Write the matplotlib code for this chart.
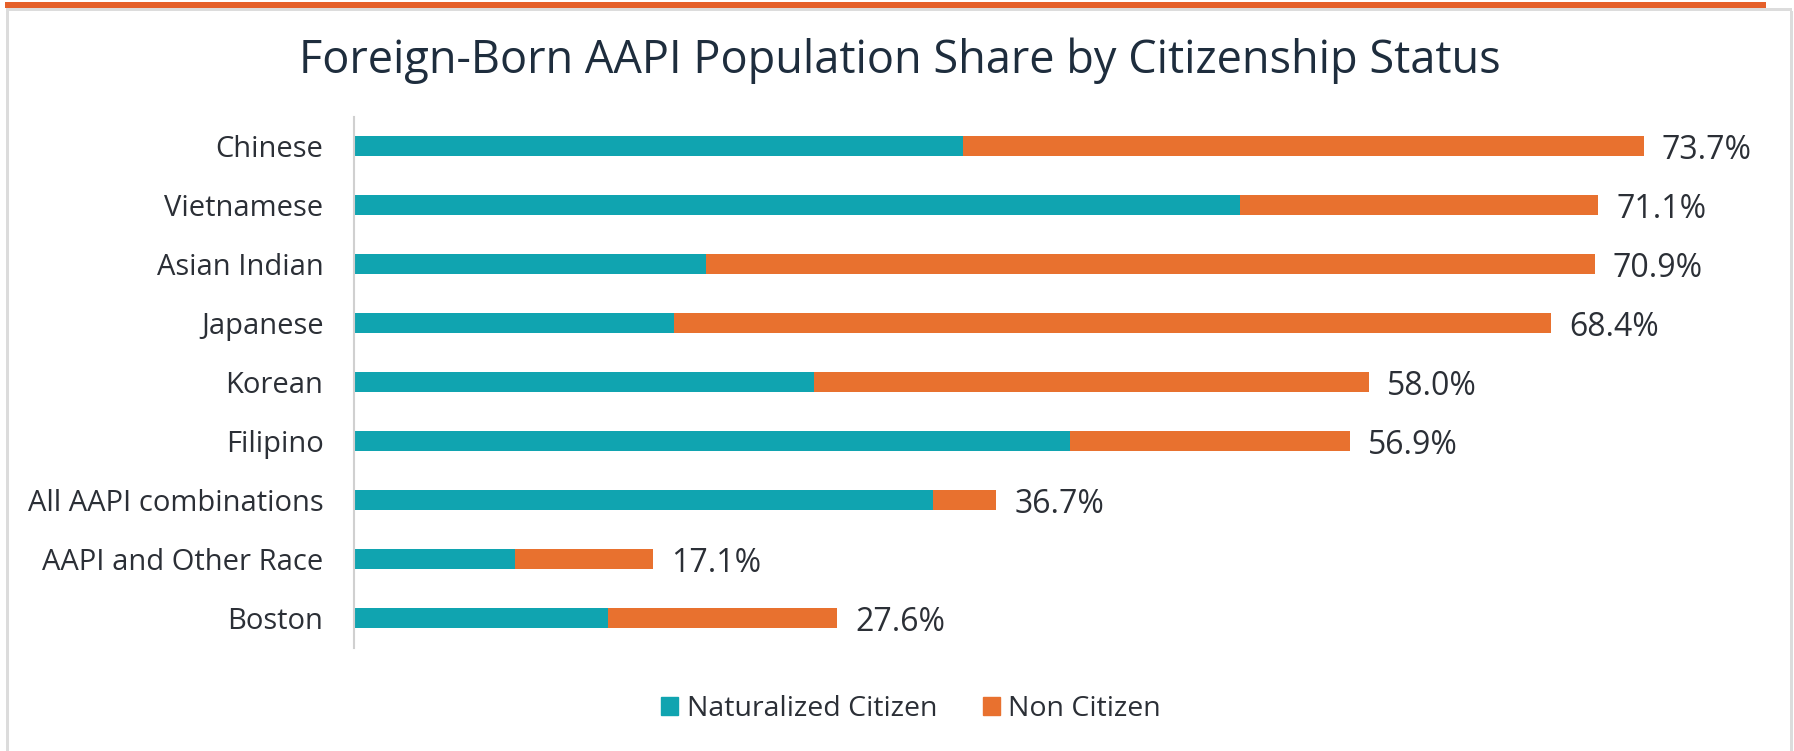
import matplotlib
matplotlib.use("Agg")
import matplotlib.pyplot as plt
from matplotlib.patches import Rectangle, Patch

categories = ["Chinese", "Vietnamese", "Asian Indian", "Japanese", "Korean",
              "Filipino", "All AAPI combinations", "AAPI and Other Race", "Boston"]
naturalized = [34.8, 50.6, 20.1, 18.3, 26.3, 40.9, 33.1, 9.2, 14.5]
non_citizen = [38.9, 20.5, 50.8, 50.1, 31.7, 16.0, 3.6, 7.9, 13.1]
totals = [73.7, 71.1, 70.9, 68.4, 58.0, 56.9, 36.7, 17.1, 27.6]

TEAL = "#10A4B0"
ORANGE = "#E8712F"
TXT = "#2b2f36"
TITLE = "#1e2d3d"

plt.rcParams['font.family'] = ['Open Sans', 'DejaVu Sans']

fig = plt.figure(figsize=(17.94, 7.51), dpi=100)
W, H = 1794, 751

# card decorations
fig.add_artist(Rectangle((5 / W, 1 - 8 / H), (1766 - 5) / W, 6 / H,
                         transform=fig.transFigure, color="#E5602A", lw=0))
fig.add_artist(Rectangle((6 / W, 1 - 11 / H), (1792 - 6) / W, 3 / H,
                         transform=fig.transFigure, color="#dcdcdc", lw=0))
fig.add_artist(Rectangle((6 / W, 0), 3 / W, 1 - 11 / H,
                         transform=fig.transFigure, color="#dcdcdc", lw=0))
fig.add_artist(Rectangle((1790 / W, 0), 3 / W, 1 - 11 / H,
                         transform=fig.transFigure, color="#dcdcdc", lw=0))

ax = fig.add_axes([354 / W, 1 - 647.5 / H, 1400 / W, 531 / H])
y = list(range(len(categories)))
ax.barh(y, naturalized, height=0.35, color=TEAL, label="Naturalized Citizen")
ax.barh(y, non_citizen, left=naturalized, height=0.35, color=ORANGE, label="Non Citizen")

for yi, t in zip(y, totals):
    ax.annotate(f"{t:.1f}%", xy=(t, yi), xytext=(13, -3), textcoords="offset points",
                ha="left", va="center", fontsize=23, color=TXT)

ax.set_xlim(0, 80)
ax.set_ylim(len(categories) - 0.5, -0.5)
ax.set_yticks(y)
ax.set_yticklabels(categories, fontsize=21, color=TXT)
ax.tick_params(axis="y", length=0, pad=22)
ax.set_xticks([])
for s in ["top", "right", "bottom"]:
    ax.spines[s].set_visible(False)
ax.spines["left"].set_color("#d0d0d0")
ax.spines["left"].set_linewidth(1.5)

fig.text(900 / W, 1 - 61 / H, "Foreign-Born AAPI Population Share by Citizenship Status",
         ha="center", va="center", fontsize=32.5, color=TITLE)

handles = [Patch(color=TEAL, label="Naturalized Citizen"),
           Patch(color=ORANGE, label="Non Citizen")]
fig.legend(handles=handles, loc="center", bbox_to_anchor=(911 / W, 1 - 709 / H),
           ncol=2, frameon=False, fontsize=20.5, handlelength=0.6, handleheight=0.6,
           handletextpad=0.3, columnspacing=1.6, labelcolor=TXT)

fig.savefig("out.png", dpi=100, facecolor="white")
